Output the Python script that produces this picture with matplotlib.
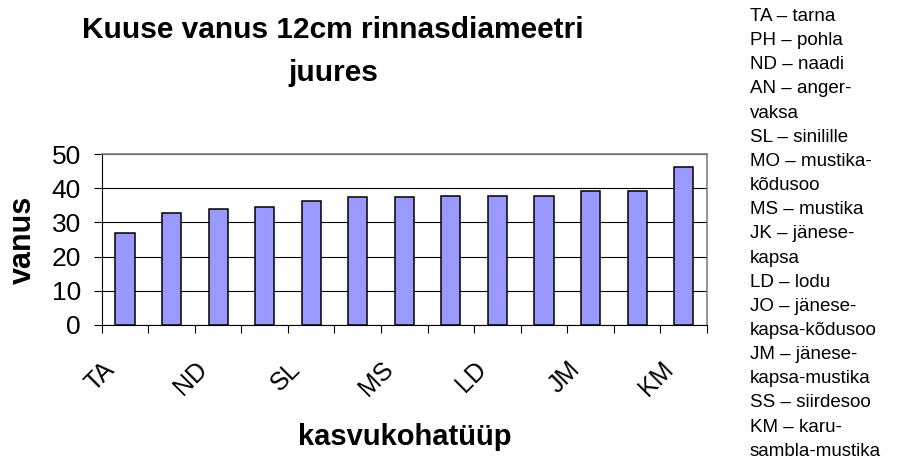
import numpy as np
import matplotlib
matplotlib.use("Agg")
import matplotlib.pyplot as plt
from matplotlib.transforms import ScaledTranslation

plt.rcParams["font.family"] = ["Liberation Sans", "DejaVu Sans"]

# kasvukohatüübid ja kuuse vanus 12 cm rinnasdiameetri juures
kasvukohad = ["TA", "PH", "ND", "AN", "SL", "MO", "MS",
              "JK", "LD", "JO", "JM", "SS", "KM"]
vanus = [26.8, 32.7, 33.8, 34.4, 36.2, 37.3, 37.3,
         37.8, 37.8, 37.8, 39.1, 39.1, 46.1]
y_ticks = [0, 10, 20, 30, 40, 50]

seletused = [
    "TA – tarna", "PH – pohla", "ND – naadi", "AN – anger-", "vaksa",
    "SL – sinilille", "MO – mustika-", "kõdusoo", "MS – mustika",
    "JK – jänese-", "kapsa", "LD – lodu", "JO – jänese-",
    "kapsa-kõdusoo", "JM – jänese-", "kapsa-mustika", "SS – siirdesoo",
    "KM – karu-", "sambla-mustika",
]

fig = plt.figure(figsize=(8.99, 4.66), dpi=100)
ax = fig.add_axes([0.1131, 0.3026, 0.6733, 0.3669])

x = np.arange(len(kasvukohad))
ax.bar(x, vanus, width=0.41, color="#9999FF", edgecolor="black",
       linewidth=1.1, zorder=3)

ax.set_xlim(-0.5, len(kasvukohad) - 0.5)
ax.set_ylim(0, 50)
ax.set_yticks(y_ticks)
ax.yaxis.grid(True, color="black", linewidth=0.8, zorder=0)
ax.tick_params(axis="y", length=6, width=0.8, pad=9, labelsize=19)

# sildid ainult igale teisele kasvukohale, kriipsud kategooriate vahel
ax.set_xticks(x[::2])
ax.set_xticklabels(kasvukohad[::2], rotation=45, ha="right", va="top",
                   fontsize=18)
ax.set_xticks(np.arange(-0.5, len(kasvukohad)), minor=True)
ax.tick_params(axis="x", which="major", length=0, pad=23)
ax.tick_params(axis="x", which="minor", length=6, width=0.8)
offset = ScaledTranslation(-6 / 100, 0, fig.dpi_scale_trans)
for lbl in ax.get_xticklabels():
    lbl.set_transform(lbl.get_transform() + offset)

for side in ("left", "bottom"):
    ax.spines[side].set_color("black")
    ax.spines[side].set_linewidth(0.8)
for side in ("top", "right"):
    ax.spines[side].set_color("#808080")
    ax.spines[side].set_linewidth(1.2)

ax.set_ylabel("vanus", fontsize=22, fontweight="bold", labelpad=10)
ax.set_xlabel("kasvukohatüüp", fontsize=21, fontweight="bold", labelpad=16)

fig.text(333 / 899, 1 - 16 / 466, "Kuuse vanus 12cm rinnasdiameetri\njuures",
         ha="center", va="top", fontsize=21.5, fontweight="bold",
         linespacing=1.7)

fig.text(750 / 899, 1 - 8 / 466, "\n".join(seletused), ha="left", va="top",
         fontsize=13.5, linespacing=1.55)

fig.savefig("out.png", dpi=100)
